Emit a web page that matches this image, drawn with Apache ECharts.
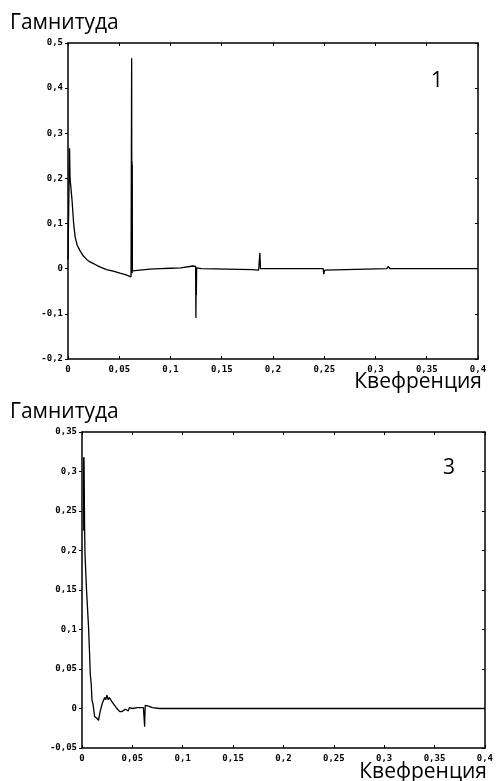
<!DOCTYPE html>
<html>
<head>
<meta charset="utf-8">
<script src="https://cdn.jsdelivr.net/npm/echarts@6/dist/echarts.min.js"></script>
<style>
  html, body { margin: 0; padding: 0; background: #fff; }
  #main { width: 496px; height: 781px; }
</style>
</head>
<body>
<div id="main"></div>
<script>
// chart 1: frequency / amplitude points
var freq1 = [0, 0.0015, 0.002, 0.003, 0.004, 0.0055, 0.007, 0.009, 0.0117, 0.015, 0.0185, 0.0215,
  0.026, 0.031, 0.0377, 0.045, 0.0507, 0.056, 0.0615, 0.0621, 0.0623, 0.0625, 0.0626, 0.0627, 0.0628,
  0.063, 0.07, 0.08, 0.09, 0.1, 0.11, 0.122, 0.1245, 0.1248, 0.125, 0.1252, 0.1255, 0.13, 0.18, 0.186,
  0.1872, 0.1878, 0.19, 0.249, 0.2495, 0.2505, 0.252, 0.311, 0.3125, 0.314, 0.375, 0.3752, 0.3756, 0.4];
var amp1 = [0.02, 0.267, 0.2, 0.2, 0.15, 0.1, 0.07, 0.052, 0.04, 0.028, 0.02, 0.015,
  0.01, 0.004, -0.002, -0.006, -0.01, -0.013, -0.018, 0.466, -0.01, 0.237, -0.01, 0.23, -0.005,
  -0.007, -0.003, -0.001, 0, 0.001, 0.002, 0.006, 0.005, -0.109, -0.02, -0.058, 0.002, 0, -0.002, -0.003,
  0.035, 0, 0, 0, -0.012, -0.003, 0, 0, 0.005, 0, 0, -0.002, 0, 0];

// chart 3
var freq3 = [0.0016, 0.0017, 0.0018, 0.0019, 0.002, 0.0026, 0.003, 0.0045, 0.0065, 0.0075, 0.0082,
  0.0092, 0.0099, 0.011, 0.0125, 0.0145, 0.0164, 0.018, 0.02, 0.0225, 0.0235, 0.0247, 0.026, 0.027,
  0.03, 0.034, 0.0375, 0.0395, 0.043, 0.046, 0.047, 0.05, 0.055, 0.061, 0.0622, 0.0624, 0.0628,
  0.066, 0.07, 0.077, 0.4];
var amp3 = [0.318, 0.225, 0.318, 0.225, 0.318, 0.226, 0.195, 0.15, 0.103, 0.07, 0.044,
  0.03, 0.0105, 0.005, -0.01, -0.012, -0.015, -0.004, 0.006, 0.014, 0.011, 0.017, 0.011, 0.014,
  0.008, 0.001, -0.004, -0.004, -0.001, -0.003, 0.001, 0, 0.001, 0.001, -0.023, -0.01, 0.004,
  0.003, 0.001, 0, 0];

var xTicks = [0, 0.4, 0.05];
var y1Range = [-0.2, 0.5, 0.1];
var y3Range = [-0.05, 0.35, 0.05];

function pairs(xs, ys) {
  var out = [];
  for (var i = 0; i < xs.length; i++) out.push([xs[i], ys[i]]);
  return out;
}

function comma(v) {
  return String(+v.toFixed(4)).replace('.', ',');
}

var labelStyle = {
  color: '#000',
  fontFamily: 'DejaVu Sans Mono',
  fontWeight: 'bold',
  fontSize: 9,
  formatter: comma
};
var lineStyle = { onZero: false, lineStyle: { color: '#000', width: 1.5 } };

function xAxes(gi) {
  return [
    {
      gridIndex: gi, type: 'value', position: 'bottom',
      min: xTicks[0], max: xTicks[1], interval: xTicks[2],
      axisLine: lineStyle,
      axisTick: { inside: true, length: 3, lineStyle: { color: '#000' } },
      axisLabel: Object.assign({ margin: 6, showMaxLabel: true }, labelStyle),
      splitLine: { show: false }
    },
    {
      gridIndex: gi, type: 'value', position: 'top',
      min: xTicks[0], max: xTicks[1], interval: xTicks[2],
      axisLine: lineStyle,
      axisTick: { inside: true, length: 3, lineStyle: { color: '#000' } },
      axisLabel: { show: false },
      splitLine: { show: false }
    }
  ];
}

function yAxes(gi, r) {
  return [
    {
      gridIndex: gi, type: 'value', position: 'left',
      min: r[0], max: r[1], interval: r[2],
      axisLine: lineStyle,
      axisTick: { inside: false, length: 3, lineStyle: { color: '#000' } },
      axisLabel: Object.assign({ margin: 5 }, labelStyle),
      splitLine: { show: false }
    },
    {
      gridIndex: gi, type: 'value', position: 'right',
      min: r[0], max: r[1], interval: r[2],
      axisLine: lineStyle,
      axisTick: { inside: true, length: 3, lineStyle: { color: '#000' } },
      axisLabel: { show: false },
      splitLine: { show: false }
    }
  ];
}

var textFont = { color: '#000', fontFamily: 'Open Sans', fontSize: 21, fontWeight: 'normal' };

var chart = echarts.init(document.getElementById('main'), null, { renderer: 'canvas' });

var option = {
  backgroundColor: '#fff',
  animation: false,
  title: [
    { text: 'Гамнитуда', left: 5, top: 8, textStyle: textFont },
    { text: 'Квефренция', right: 9, top: 367, textStyle: textFont },
    { text: '1', left: 426, top: 66, textStyle: textFont },
    { text: 'Гамнитуда', left: 5, top: 397, textStyle: textFont },
    { text: 'Квефренция', right: 4, top: 757, textStyle: textFont },
    { text: '3', left: 438, top: 453, textStyle: textFont }
  ],
  grid: [
    { left: 68, top: 43, width: 410, height: 316 },
    { left: 82, top: 432, width: 405, height: 316 }
  ],
  xAxis: xAxes(0).concat(xAxes(1)),
  yAxis: yAxes(0, y1Range).concat(yAxes(1, y3Range)),
  series: [
    {
      type: 'line', xAxisIndex: 0, yAxisIndex: 0,
      data: pairs(freq1, amp1), showSymbol: false,
      lineStyle: { color: '#000', width: 1.3 }
    },
    {
      type: 'line', xAxisIndex: 2, yAxisIndex: 2,
      data: pairs(freq3, amp3), showSymbol: false,
      lineStyle: { color: '#000', width: 1.3 }
    }
  ]
};

chart.setOption(option);
</script>
</body>
</html>
